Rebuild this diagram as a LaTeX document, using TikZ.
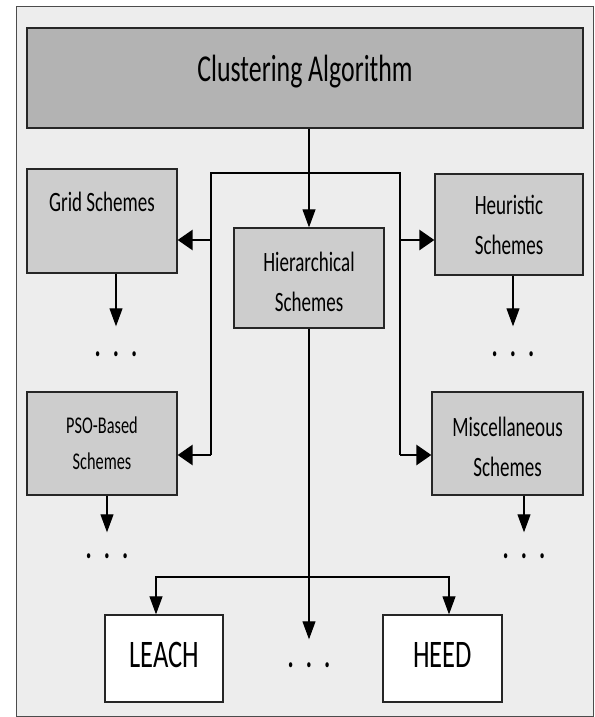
\documentclass[tikz,border=0pt]{standalone}
\usepackage{fontspec}
\newfontfamily\boxfont[FakeStretch=0.68]{Carlito}
\usetikzlibrary{arrows.meta}
\definecolor{panel}{HTML}{EDEDED}
\definecolor{topgray}{HTML}{B3B3B3}
\definecolor{boxgray}{HTML}{CDCDCD}

\begin{document}
\begin{tikzpicture}%
[x=1pt,y=-1pt,%
box/.style={draw=black!85, line width=1.3pt, fill=boxgray, align=center, inner sep=0pt,%
  font=\boxfont\fontsize{28}{40}\selectfont},%
wire/.style={line width=1.1pt},%
link/.style={wire, -{Triangle[length=18pt,width=13pt]}},%
stub/.style={line width=2.8pt, -{Triangle[length=15pt,width=20pt]}},%
dots/.style={inner sep=0pt, font=\boxfont\bfseries\fontsize{34}{34}\selectfont}]

\useasboundingbox (0,0) rectangle (594,717);
\draw[draw=black!70, line width=1pt, fill=panel] (16,7) rectangle (593,716);

\node[box, fill=topgray, minimum width=556pt, minimum height=100pt, text depth=20pt,%
  font=\boxfont\fontsize{38}{40}\selectfont] (algo) at (305,78) {Clustering Algorithm};

\node[box, minimum width=150pt, minimum height=104pt] (grid) at (102,221) {Grid Schemes\\[-14pt]\strut};
\node[box, minimum width=150pt, minimum height=100pt] (hier) at (309,278) {\rule{0pt}{28pt}Hierarchical\\Schemes};
\node[box, minimum width=148pt, minimum height=101pt] (heur) at (509,224.5) {Heuristic\\Schemes};
\node[box, minimum width=150pt, minimum height=103pt,%
  font=\boxfont\fontsize{24}{36}\selectfont] (pso) at (102,443.5) {PSO-Based\\Schemes};
\node[box, minimum width=151pt, minimum height=103pt] (misc) at (507.5,443.5) {\rule{0pt}{26pt}Miscellaneous\\Schemes};

\node[box, fill=white, minimum width=118pt, minimum height=87pt, text depth=7pt,%
  font=\boxfont\fontsize{39}{40}\selectfont] (leach) at (164,658.5) {LEACH};
\node[box, fill=white, minimum width=119pt, minimum height=87pt, text depth=7pt,%
  font=\boxfont\fontsize{39}{40}\selectfont] (heed) at (442.5,658.5) {HEED};

\node[dots] (gdots) at (116,354) {.\hspace{12pt}.\hspace{12pt}.};
\node[dots] (hdots) at (513,354) {.\hspace{12pt}.\hspace{12pt}.};
\node[dots] (pdots) at (107,556) {.\hspace{12pt}.\hspace{12pt}.};
\node[dots] (mdots) at (524,556) {.\hspace{12pt}.\hspace{12pt}.};
\node[dots] (cdots) at (309,665) {.\hspace{12pt}.\hspace{12pt}.};

\coordinate (lt) at (211,173);
\coordinate (rt) at (400,173);
\coordinate (jn) at (309,577);

% top level
\draw[link] (algo.south -| hier.north) -- (hier.north);
\draw[wire] ([yshift=-11.5pt]pso.east -| lt) -- (lt) -- (rt) -- ([yshift=-11.5pt]misc.west -| rt);
\draw[stub] ([yshift=-19pt]grid.east -| lt) -- ([yshift=-19pt]grid.east);
\draw[stub] ([yshift=-11.5pt]pso.east -| lt) -- ([yshift=-11.5pt]pso.east);
\draw[stub] ([yshift=-15.5pt]heur.west -| rt) -- ([yshift=-15.5pt]heur.west);
\draw[stub] ([yshift=-11.5pt]misc.west -| rt) -- ([yshift=-11.5pt]misc.west);

% more of each kind
\draw[link] (grid.south -| gdots) -- ([yshift=25pt]gdots.north);
\draw[link] (heur.south -| hdots) -- ([yshift=25pt]hdots.north);
\draw[link] (pso.south -| pdots) -- ([yshift=21pt]pdots.north);
\draw[link] (misc.south -| mdots) -- ([yshift=21pt]mdots.north);

% hierarchical ones
\draw[link] (hier.south) -- ([yshift=23pt]cdots.north);
\draw[link] (jn) -| ([xshift=-8pt]leach.north);
\draw[link] (jn) -| ([xshift=6.5pt]heed.north);
\end{tikzpicture}
\end{document}
